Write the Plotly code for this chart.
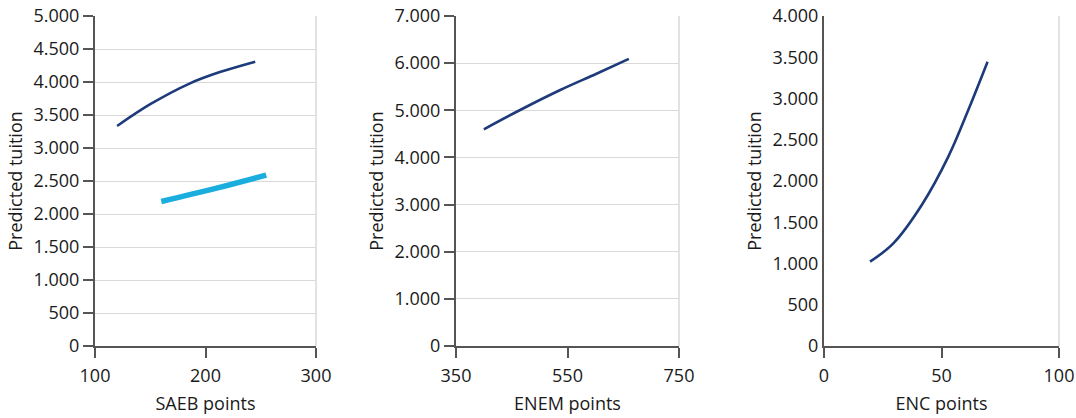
import plotly.graph_objects as go

# Panel 1: SAEB
saeb_x_dark = [120, 150, 186, 213, 245]
saeb_y_dark = [3333, 3663, 3980, 4150, 4308]
saeb_x_light = [160, 210, 255]
saeb_y_light = [2190, 2392, 2590]
# Panel 2: ENEM
enem_x = [400, 465, 537, 602, 660]
enem_y = [4597, 5006, 5430, 5775, 6090]
# Panel 3: ENC
enc_x = [19.6, 29.5, 41.6, 52.9, 61.4, 69.6]
enc_y = [1022, 1244, 1709, 2295, 2861, 3446]

saeb_ticks = [100, 200, 300]
enem_ticks = [350, 550, 750]
enc_ticks = [0, 50, 100]

DARK = "#1d3a7a"
LIGHT = "#1aaede"
FONT = "Open Sans"
TXT = "#1a1a1a"
AXC = "#555555"
GRID = "#d9d9d9"

fig = go.Figure()
fig.add_trace(go.Scatter(x=saeb_x_dark, y=saeb_y_dark, mode="lines", line=dict(color=DARK, width=2.6, shape="spline", smoothing=1), xaxis="x", yaxis="y"))
fig.add_trace(go.Scatter(x=saeb_x_light, y=saeb_y_light, mode="lines", line=dict(color=LIGHT, width=5.5, shape="spline"), xaxis="x", yaxis="y"))
fig.add_trace(go.Scatter(x=enem_x, y=enem_y, mode="lines", line=dict(color=DARK, width=2.6, shape="spline", smoothing=1), xaxis="x2", yaxis="y2"))
fig.add_trace(go.Scatter(x=enc_x, y=enc_y, mode="lines", line=dict(color=DARK, width=2.6, shape="spline", smoothing=1), xaxis="x3", yaxis="y3"))

ybot, ytop = (418 - 346) / 418, (418 - 16) / 418
doms = [(95 / 1076, 316 / 1076), (456 / 1076, 679 / 1076), (824 / 1076, 1059 / 1076)]

tickfont = dict(family=FONT, size=18, color=TXT)
titlefont = dict(family=FONT, size=18, color=TXT)

def xax(dom, rng, ticks, title, anchor):
    return dict(domain=list(dom), range=rng, tickvals=ticks, anchor=anchor, automargin=False,
                showgrid=False, zeroline=False, showline=True, linecolor=AXC, linewidth=1.5,
                ticks="outside", ticklen=10, tickcolor=AXC, tickwidth=1.5, ticklabelstandoff=3,
                tickfont=tickfont, title=dict(text=title, font=titlefont, standoff=11))

def yax(dom_anchor, rng, dtick, grid=True, ticks="outside"):
    return dict(domain=[ybot, ytop], range=rng, dtick=dtick, anchor=dom_anchor, automargin=False,
                showgrid=grid, gridcolor=GRID, gridwidth=1, zeroline=False,
                showline=True, linecolor=AXC, linewidth=2,
                ticks=ticks, ticklen=10, tickcolor=AXC, tickwidth=1.5,
                tickformat=",d", tickfont=tickfont,
                title=dict(text="Predicted tuition", font=titlefont, standoff=6))

layout = dict(
    width=1076, height=418, margin=dict(l=0, r=0, t=0, b=0),
    paper_bgcolor="white", plot_bgcolor="white", showlegend=False,
    separators=",.",
    xaxis=xax(doms[0], [100, 300], saeb_ticks, "SAEB points", "y"),
    xaxis2=xax(doms[1], [350, 750], enem_ticks, "ENEM points", "y2"),
    xaxis3=xax(doms[2], [0, 100], enc_ticks, "ENC points", "y3"),
    yaxis=yax("x", [0, 5000], 500),
    yaxis2=yax("x2", [0, 7000], 1000),
    yaxis3=yax("x3", [0, 4000], 500, grid=False, ticks=""),
    yaxis4=dict(domain=[ybot, ytop], range=[0, 3500], dtick=500, anchor="x3", overlaying="y3",
                side="left", showgrid=True, gridcolor=GRID, zeroline=False, showline=False, automargin=False,
                ticks="outside", ticklen=10, tickcolor=AXC, tickwidth=1.5, showticklabels=False),
)
fig.update_layout(**layout)

for xr, yr in [("x", "y"), ("x2", "y2"), ("x3", "y3")]:
    fig.add_shape(type="line", xref=f"{xr} domain", yref=f"{yr} domain", x0=1, x1=1, y0=0, y1=1,
                  line=dict(color=GRID, width=1.5), layer="below")

fig.write_html("out.html")
